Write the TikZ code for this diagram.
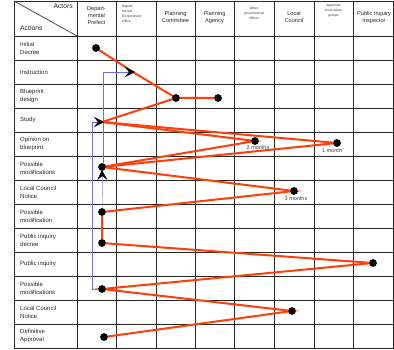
\documentclass[tikz,border=0pt]{standalone}
\usepackage{fontspec}
\setmainfont{Liberation Sans}
\usetikzlibrary{arrows.meta}
\definecolor{flowred}{RGB}{255,62,12}
\definecolor{loopblue}{RGB}{110,110,230}
\begin{document}
\begin{tikzpicture}[x=1pt,y=-1pt,
  grid/.style={draw=black!85, line width=0.6pt},
  rowlabel/.style={anchor=west, align=left, font=\fontsize{6}{7.8}\selectfont, inner sep=0pt, text=black!85},
  colhead/.style={align=center, font=\fontsize{5.6}{7}\selectfont, inner sep=0pt, text=black!85},
  tinyhead/.style={align=center, font=\fontsize{3.3}{5}\selectfont, inner sep=0pt, text=black!80},
  stop/.style={circle, fill=black, inner sep=0pt, minimum size=7.5pt},
  flow/.style={draw=flowred, line width=2pt, line cap=round},
  loopline/.style={draw=loopblue, line width=0.4pt},
  looptip/.style={-{Stealth[black,length=10pt,width=10pt,inset=4pt]}},
  note/.style={font=\fontsize{5.5}{6}\selectfont, inner sep=0pt, text=black!75}]
\useasboundingbox (0,0) rectangle (394,350);

% ---- table grid ----
\draw[grid] (14,1) rectangle (393,348);
\foreach \y in {36,60,...,324} \draw[grid] (14,\y) -- (393,\y);
\foreach \x in {77,116,156,195,234,274,314,353} \draw[grid] (\x,1) -- (\x,348);
\draw[grid] (14,1) -- (77,36);

% ---- header ----
\node[colhead, anchor=north east] (hactors) at (73,4) {\fontsize{6.8}{7}\selectfont Actors};
\node[rowlabel, anchor=south west] (hactions) at (20,31) {\fontsize{6.8}{7}\selectfont Actions};
\node[colhead, anchor=north] (c1) at (96.5,6) {Depart-\\mental\\Prefect};
\node[tinyhead, anchor=north west, align=left] (c2) at (122,5) {Depart-\\mental\\Environment\\Office};
\node[colhead, anchor=north] (c3) at (175.5,11) {Planning\\Committee};
\node[colhead, anchor=north] (c4) at (214.5,11) {Planning\\Agency};
\node[tinyhead, anchor=north] (c5) at (254,7) {Other\\governmental\\offices};
\node[colhead, anchor=north] (c6) at (294,11) {Local\\Council};
\node[tinyhead, anchor=north] (c7) at (333.5,4) {Approved\\local citizen\\groups};
\node[colhead, anchor=north] (c8) at (374,11) {Public Inquiry\\Inspector};

% ---- row labels ----
\node[rowlabel] (r1) at (20,48) {Initial\\Decree};
\node[rowlabel] (r2) at (20,72) {Instruction};
\node[rowlabel] (r3) at (20,96) {Blueprint\\design};
\node[rowlabel] (r4) at (20,120) {Study};
\node[rowlabel] (r5) at (20,144) {Opinion on\\blueprint};
\node[rowlabel] (r6) at (20,168) {Possible\\modifications};
\node[rowlabel] (r7) at (20,192) {Local Council\\Notice};
\node[rowlabel] (r8) at (20,216) {Possible\\modification};
\node[rowlabel] (r9) at (20,240) {Public inquiry\\decree};
\node[rowlabel] (r10) at (20,264) {Public inquiry};
\node[rowlabel] (r11) at (20,288) {Possible\\modifications};
\node[rowlabel] (r12) at (20,312) {Local Council\\Notice};
\node[rowlabel] (r13) at (20,336) {Definitive\\Approval};

% ---- steps ----
\coordinate (instr) at (135,72);
\coordinate (study) at (104,122);
\coordinate (pmtop) at (102,170);
\node[stop] (init) at (96,48) {};
\node[stop] (blue) at (176,98) {};
\node[stop] (agency) at (218,98) {};
\node[stop] (opA) at (255,141) {};
\node[stop] (opB) at (337,143) {};
\node[stop] (pm1) at (102,167) {};
\node[stop] (lcn1) at (294,191) {};
\node[stop] (pm2) at (102,212) {};
\node[stop] (pid) at (102,243) {};
\node[stop] (pi) at (373,263) {};
\node[stop] (pm3) at (102,289) {};
\node[stop] (lcn2) at (292,311) {};
\node[stop] (fin) at (104,337) {};

\node[note, anchor=north] (m2) at (258,145.5) {2 months};
\node[note, anchor=north] (m1) at (332,148.5) {1 month};
\node[note, anchor=north] (m3) at (296,196) {3 months};

% ---- procedure path ----
\draw[flow] (init.center) -- (133,72) -- (blue.center) -- (agency.center);
\draw[flow] (blue.center) -- (102,122);
\draw[flow] (102,122) -- (opA.center) -- (pm1.center);
\draw[flow] (102,122) -- (opB.center) -- (pm1.center);
\draw[flow] (pm1.center) -- (lcn1.center) -- (pm2.center) -- (pid.center)
  -- (pi.center) -- (pm3.center) -- (lcn2.center) -- (fin.center);

% ---- feedback loops ----
\draw[loopline, looptip] (pm1.north) ++(1,0) |- (instr);
\draw[loopline, looptip] (pm2.north) ++(1,0) -- (pmtop);
\draw[loopline, looptip] (pm3.west) -- (92,289) |- (study);

% dots over the path
\foreach \n in {init,blue,agency,opA,opB,pm1,lcn1,pm2,pid,pi,pm3,lcn2,fin}
  \fill (\n) circle (3.7pt);
\end{tikzpicture}
\end{document}
